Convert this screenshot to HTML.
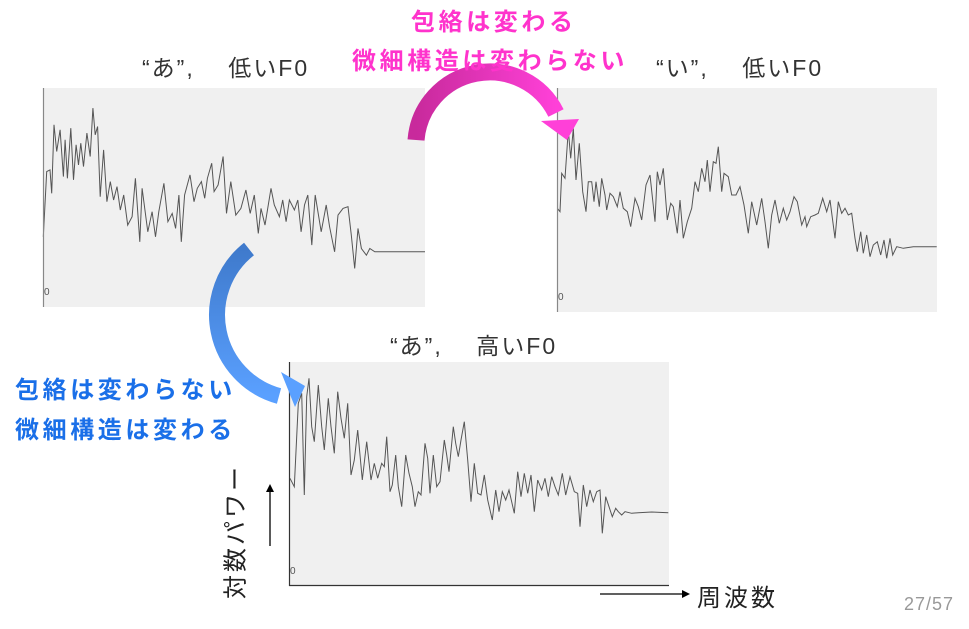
<!DOCTYPE html>
<html><head><meta charset="utf-8">
<style>
html,body{margin:0;padding:0;background:#fff;}
body{width:969px;height:629px;position:relative;overflow:hidden;font-family:"Liberation Sans","Noto Sans CJK JP",sans-serif;}
.t{position:absolute;white-space:nowrap;}
.ti{font-size:23px;color:#333;letter-spacing:2px;}
.bl{font-size:24px;font-weight:bold;letter-spacing:3.6px;}
</style></head>
<body>
<svg id="svg" width="969" height="629" style="position:absolute;left:0;top:0">
<defs>
<linearGradient id="mg" x1="0" x2="1" y1="0" y2="0"><stop offset="0" stop-color="#c82a9c"/><stop offset="1" stop-color="#ff40d8"/></linearGradient>
<linearGradient id="bg" x1="0" x2="0" y1="0" y2="1"><stop offset="0" stop-color="#3f7acc"/><stop offset="1" stop-color="#5aa0ff"/></linearGradient>
</defs>
<g id="plots"></g>
<g>
<path d="M416,140 A74,74 0 0 1 556,113" fill="none" stroke="url(#mg)" stroke-width="17"/>
<polygon points="541,121 579,119 567,140" fill="#ff40d8"/>
</g>
<g>
<path d="M249,249 A84,84 0 0 0 279,396" fill="none" stroke="url(#bg)" stroke-width="16"/>
<polygon points="281,372 295,407 305,386" fill="#5aa0ff"/>
</g>
<g>
<line x1="270" y1="546" x2="270" y2="490" stroke="#000" stroke-width="1.3"/>
<polygon points="266,492 270,484 274,492" fill="#000"/>
</g>
<g>
<line x1="600" y1="594" x2="684" y2="594" stroke="#000" stroke-width="1.3"/>
<polygon points="682,590 690,594 682,598" fill="#000"/>
</g>
</svg>

<div class="t ti" style="left:142px;top:49px;">“あ”,&nbsp;&nbsp;&nbsp;&nbsp;低いF0</div>
<div class="t ti" style="left:656px;top:49px;">“い”,&nbsp;&nbsp;&nbsp;&nbsp;低いF0</div>
<div class="t ti" style="left:390px;top:327px;">“あ”,&nbsp;&nbsp;&nbsp;&nbsp;高いF0</div>
<div class="t bl" style="left:411px;top:2px;color:#ff33cc;">包絡は変わる</div>
<div class="t bl" style="left:352px;top:41px;color:#ff33cc;">微細構造は変わらない</div>
<div class="t bl" style="left:15px;top:370px;color:#1a6fe8;">包絡は変わらない</div>
<div class="t bl" style="left:15px;top:410px;color:#1a6fe8;">微細構造は変わる</div>
<div class="t" style="left:165px;top:514px;width:136px;font-size:24px;letter-spacing:3px;color:#222;transform:rotate(-90deg);text-align:center;">対数パワー</div>
<div class="t" style="left:697px;top:578px;font-size:24px;letter-spacing:3px;color:#222;">周波数</div>
<div class="t" style="left:904px;top:594px;font-size:18px;letter-spacing:1px;color:#999;">27/57</div>

<script>
// Plot 1: "あ" low F0 (frequency bins, log power levels)
const freqA = [10,20,30,35,42,50,60,70,75,82,92,100,108,115,122,130,140,150,158,165,172,180,190,200,210,220,230,240,250,262,275,285,298,305,322,335,345,355,370,382,395,405,415,422,432,448,460,470,482,492,500,513,520,532,547,557,570,585,600,615,628,640,652,660,672,690,700,715,725,735,745,760,770,780,790,800,812,822,840,855,865,880,890,905,920,930,940,950,960,975,985,1000,1040,1150];
const powA = [245,440,445,375,580,500,565,425,535,420,570,415,520,460,525,455,555,485,630,550,575,365,505,350,410,355,395,325,370,280,305,420,230,390,260,320,245,320,405,290,315,270,370,230,370,430,350,390,410,360,420,465,380,400,485,315,410,310,330,385,315,370,255,330,280,390,340,305,355,290,355,325,355,260,340,370,220,370,260,340,275,200,310,330,335,250,150,270,210,190,210,200,200,200];
// Plot 2: "い" low F0
const freqI = [52,60,65,75,85,92,100,108,118,128,138,145,155,162,168,178,185,195,200,210,220,232,240,250,262,272,285,295,305,318,330,345,352,360,370,382,392,400,412,420,430,442,455,465,475,485,495,502,510,520,528,535,545,552,565,575,588,600,612,625,635,650,665,675,685,695,705,718,730,740,750,762,772,785,795,800,812,825,835,848,860,870,885,895,905,915,925,935,945,952,962,970,980,990,1000,1012,1022,1032,1040,1050,1058,1070,1090,1120,1190];
const powI = [330,320,435,420,565,480,570,415,525,380,320,410,410,350,410,335,420,370,325,375,365,335,380,330,320,275,360,335,295,400,430,290,440,400,450,295,345,335,255,355,240,290,330,410,380,450,410,475,380,470,465,515,380,435,425,370,370,395,340,255,350,280,360,290,210,310,355,285,330,295,320,365,350,280,305,275,305,310,315,360,320,355,240,350,315,330,310,315,240,200,260,195,250,185,220,230,190,235,180,240,190,215,210,215,215];
// Plot 3: "あ" high F0
const freqAH = [15,28,40,50,58,65,72,80,88,100,110,118,130,138,148,158,168,178,188,198,208,218,232,245,258,268,278,290,298,305,315,322,332,340,350,362,372,382,390,400,408,420,428,435,445,455,465,478,485,492,505,512,520,528,538,548,558,568,578,588,598,608,622,632,642,652,662,672,688,698,708,718,728,738,748,758,770,780,790,800,810,820,832,842,855,868,878,885,895,905,915,925,935,945,952,962,972,982,992,1000,1010,1020,1040,1060,1100,1150];
const powAH = [345,320,570,600,295,590,645,500,455,625,500,430,585,500,420,605,525,465,570,355,400,490,340,455,340,390,345,390,380,470,305,325,415,320,260,415,360,320,260,305,295,450,405,300,415,320,335,460,415,365,500,450,410,460,515,400,275,390,300,295,355,280,220,310,245,305,280,310,240,365,290,360,300,355,245,340,310,345,290,350,320,295,360,295,350,305,300,200,325,260,310,275,305,310,180,290,260,230,255,245,235,245,240,242,244,242];

const NS = 'http://www.w3.org/2000/svg';
const plotsG = document.getElementById('plots');
function makeScale(d0,d1,r0,r1){return v=>r0+(v-d0)/(d1-d0)*(r1-r0);}
function drawPlot(name, box, fdom, pdom, freqs, pows, axes){
  const g = document.createElementNS(NS,'g');
  
  
  plotsG.appendChild(g);
  const bgRect = document.createElementNS(NS,'rect');
  
  
  bgRect.setAttribute('x',box.x);bgRect.setAttribute('y',box.y);
  bgRect.setAttribute('width',box.w);bgRect.setAttribute('height',box.h);
  bgRect.setAttribute('fill','#f0f0f0');
  g.appendChild(bgRect);
  const xs = makeScale(fdom[0],fdom[1],box.x,box.x+box.w);
  const ys = makeScale(pdom[0],pdom[1],box.y+box.h,box.y);
  const pts = freqs.map((f,i)=>xs(f).toFixed(1)+','+ys(pows[i]).toFixed(1)).join(' ');
  const pl = document.createElementNS(NS,'polyline');
  
  
  pl.setAttribute('points',pts);pl.setAttribute('fill','none');
  pl.setAttribute('stroke','#555');pl.setAttribute('stroke-width','1');
  g.appendChild(pl);
  const yAxis = document.createElementNS(NS,'line');
  
  
  yAxis.setAttribute('x1',box.x+0.5);yAxis.setAttribute('x2',box.x+0.5);
  yAxis.setAttribute('y1',box.y);yAxis.setAttribute('y2',box.y+box.h);
  yAxis.setAttribute('stroke',axes?'#333':'#888');yAxis.setAttribute('stroke-width','1.2');
  g.appendChild(yAxis);
  if(axes){
    const xAxis = document.createElementNS(NS,'line');
    
    
    xAxis.setAttribute('x1',box.x);xAxis.setAttribute('x2',box.x+box.w);
    xAxis.setAttribute('y1',box.y+box.h-0.5);xAxis.setAttribute('y2',box.y+box.h-0.5);
    xAxis.setAttribute('stroke','#333');xAxis.setAttribute('stroke-width','1.2');
    g.appendChild(xAxis);
  }
  const z = document.createElementNS(NS,'text');
  
  
  z.setAttribute('x',box.x+1);z.setAttribute('y',box.y+box.h-12);
  z.setAttribute('font-size','10');z.setAttribute('fill','#555');
  z.setAttribute('font-family','Liberation Sans, sans-serif');
  z.textContent='0';
  g.appendChild(z);
}
drawPlot('plot-a-low-f0',{x:43,y:88,w:382,h:219},[9,1150],[35,690],freqA,powA,false);
drawPlot('plot-i-low-f0',{x:557,y:88,w:380,h:224},[51,1191],[19,691],freqI,powI,false);
drawPlot('plot-a-high-f0',{x:289,y:362,w:380,h:224},[12,1152],[22,694],freqAH,powAH,true);
</script>
</body></html>
